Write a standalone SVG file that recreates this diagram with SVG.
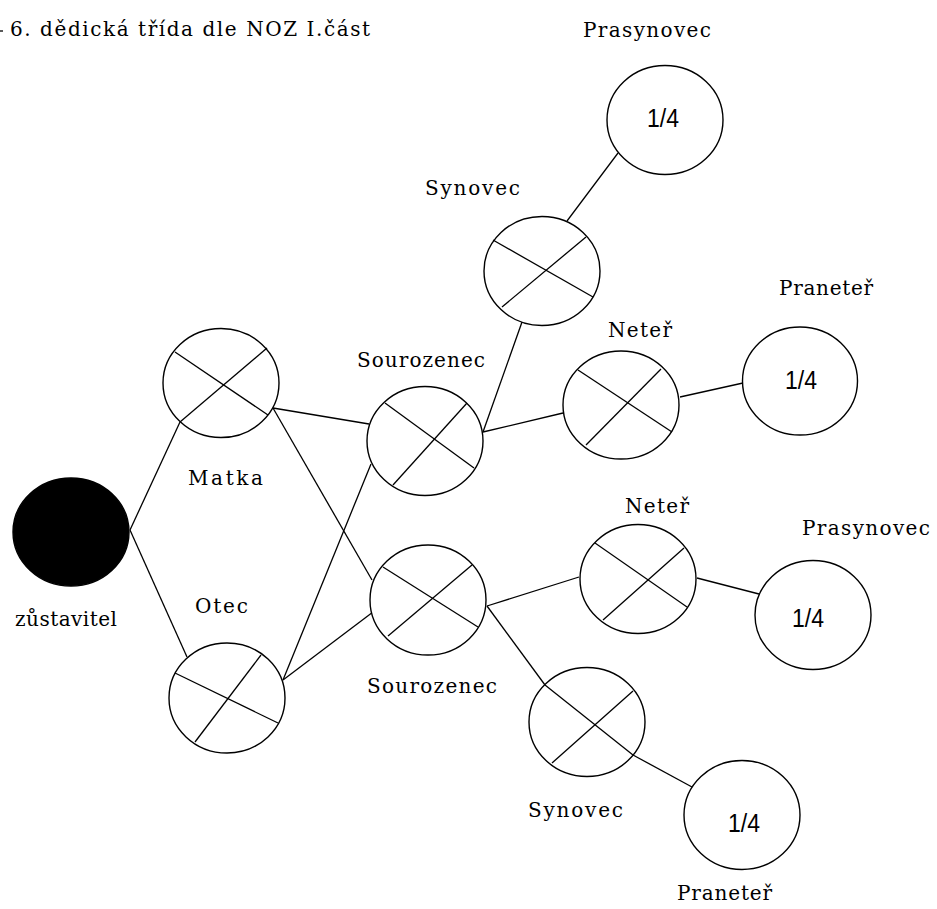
<svg xmlns="http://www.w3.org/2000/svg" width="937" height="909" viewBox="0 0 937 909">
<style>
.n{fill:#fff;stroke:#000;stroke-width:1.4}
.f{fill:#000;stroke:#000;stroke-width:1.4}
.x{stroke:#000;stroke-width:1.3;fill:none}
.c line{stroke:#000;stroke-width:1.3}
.t{font-family:"DejaVu Serif","Liberation Serif",serif;font-size:20px;fill:#000}
.q{font-family:"Liberation Sans",Arial,sans-serif;font-size:26px;fill:#000}
</style>
<rect width="937" height="909" fill="#fff"/>
<line x1="0" y1="31" x2="3" y2="31" stroke="#000" stroke-width="1.3"/>
<text class="t" x="10" y="36" textLength="360" lengthAdjust="spacing">6. dědická třída dle NOZ I.část</text>
<g id="connectors" class="c">
<line x1="130" y1="530" x2="180" y2="422"/>
<line x1="130" y1="530" x2="187" y2="657"/>
<line x1="273" y1="408" x2="369" y2="424"/>
<line x1="273" y1="408" x2="372" y2="580"/>
<line x1="283" y1="680" x2="371" y2="464"/>
<line x1="283" y1="680" x2="373" y2="612"/>
<line x1="483" y1="432" x2="522" y2="322"/>
<line x1="483" y1="432" x2="563" y2="413"/>
<line x1="567" y1="221" x2="618" y2="153"/>
<line x1="680" y1="397" x2="743" y2="383"/>
<line x1="487" y1="606" x2="579" y2="577"/>
<line x1="487" y1="606" x2="545" y2="685"/>
<line x1="697" y1="578" x2="759" y2="594"/>
<line x1="633" y1="755" x2="692" y2="787"/>
</g>
<g id="zustavitel">
<ellipse class="f" cx="71" cy="532" rx="58" ry="54"/>
<text class="t" x="15" y="626" textLength="102" lengthAdjust="spacing">zůstavitel</text>
</g>
<g id="matka">
<ellipse class="n" cx="221" cy="383" rx="58" ry="54.5"/>
<line class="x" x1="175" y1="352" x2="268" y2="415"/>
<line class="x" x1="267" y1="348" x2="180" y2="422"/>
<text class="t" x="188" y="485" textLength="75" lengthAdjust="spacing">Matka</text>
</g>
<g id="otec">
<ellipse class="n" cx="227" cy="698" rx="58" ry="55"/>
<line class="x" x1="175" y1="673" x2="278" y2="723"/>
<line class="x" x1="261" y1="655" x2="195" y2="742"/>
<text class="t" x="195" y="613" textLength="53" lengthAdjust="spacing">Otec</text>
</g>
<g id="sourozenec1">
<ellipse class="n" cx="425" cy="441" rx="58" ry="54.5"/>
<line class="x" x1="385" y1="403" x2="474" y2="468"/>
<line class="x" x1="467" y1="403" x2="393" y2="485"/>
<text class="t" x="357" y="367" textLength="128" lengthAdjust="spacing">Sourozenec</text>
</g>
<g id="sourozenec2">
<ellipse class="n" cx="428" cy="600" rx="58" ry="55"/>
<line class="x" x1="383" y1="567" x2="478" y2="627"/>
<line class="x" x1="472" y1="565" x2="388" y2="636"/>
<text class="t" x="367" y="693" textLength="130" lengthAdjust="spacing">Sourozenec</text>
</g>
<g id="synovec1">
<ellipse class="n" cx="542" cy="271" rx="58" ry="54.5"/>
<line class="x" x1="493" y1="240" x2="593" y2="297"/>
<line class="x" x1="586" y1="237" x2="502" y2="307"/>
<text class="t" x="425" y="195" textLength="95" lengthAdjust="spacing">Synovec</text>
</g>
<g id="prasynovec1">
<ellipse class="n" cx="665" cy="120" rx="58" ry="54.5"/>
<text class="q" x="647" y="127" textLength="32" lengthAdjust="spacingAndGlyphs">1/4</text>
<text class="t" x="583" y="37" textLength="128" lengthAdjust="spacing">Prasynovec</text>
</g>
<g id="neter1">
<ellipse class="n" cx="621" cy="405" rx="58" ry="54"/>
<line class="x" x1="578" y1="370" x2="672" y2="432"/>
<line class="x" x1="661" y1="369" x2="586" y2="445"/>
<text class="t" x="608" y="337" textLength="64" lengthAdjust="spacing">Neteř</text>
</g>
<g id="praneter1">
<ellipse class="n" cx="800" cy="381" rx="57.5" ry="54"/>
<text class="q" x="785" y="389" textLength="32" lengthAdjust="spacingAndGlyphs">1/4</text>
<text class="t" x="779" y="295" textLength="94" lengthAdjust="spacing">Praneteř</text>
</g>
<g id="neter2">
<ellipse class="n" cx="638" cy="579" rx="58" ry="54.5"/>
<line class="x" x1="595" y1="543" x2="687" y2="607"/>
<line class="x" x1="684" y1="548" x2="603" y2="620"/>
<text class="t" x="625" y="513" textLength="64" lengthAdjust="spacing">Neteř</text>
</g>
<g id="prasynovec2">
<ellipse class="n" cx="813" cy="615" rx="58" ry="54.5"/>
<text class="q" x="792" y="627" textLength="32" lengthAdjust="spacingAndGlyphs">1/4</text>
<text class="t" x="802" y="535" textLength="128" lengthAdjust="spacing">Prasynovec</text>
</g>
<g id="synovec2">
<ellipse class="n" cx="587" cy="722" rx="58" ry="54.5"/>
<line class="x" x1="545" y1="685" x2="633" y2="755"/>
<line class="x" x1="633" y1="691" x2="552" y2="763"/>
<text class="t" x="528" y="817" textLength="95" lengthAdjust="spacing">Synovec</text>
</g>
<g id="praneter2">
<ellipse class="n" cx="742" cy="815" rx="58" ry="54.5"/>
<text class="q" x="728" y="832" textLength="32" lengthAdjust="spacingAndGlyphs">1/4</text>
<text class="t" x="677" y="900" textLength="95" lengthAdjust="spacing">Praneteř</text>
</g>
</svg>
